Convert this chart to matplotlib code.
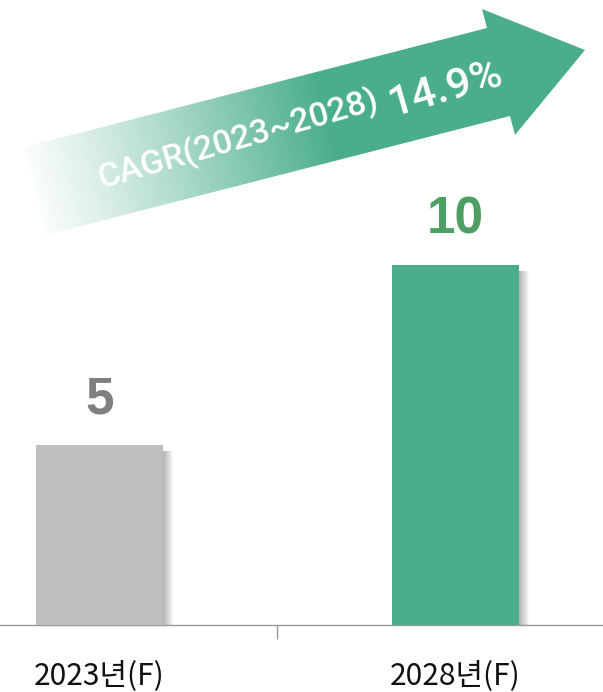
import numpy as np
import matplotlib
matplotlib.use("Agg")
import matplotlib.pyplot as plt
from matplotlib.patches import Polygon, Rectangle
from matplotlib.colors import to_rgb

# ---- data ----
categories = ["2023년(F)", "2028년(F)"]
values = [5, 10]
bar_colors = ["#bfbfbf", "#4aae8a"]
label_colors = ["#7f7f7f", "#4e9f63"]
cagr_label = "CAGR(2023~2028)"
cagr_value = "14.9%"

W, H = 603, 692
fig = plt.figure(figsize=(W / 100, H / 100), dpi=100)

# main bar axes: bottom of axes at pixel y=625
ax = fig.add_axes([0, (H - 625) / H, 1, 625 / H])
x = np.arange(len(categories))
bw = 0.357
ax.set_xlim(-0.28, 1.416)
ax.set_ylim(0, 625 / 36)
px_x = 1.696 / W      # data units per pixel (x)
px_y = 1 / 36.0       # data units per pixel (y)

# soft shadows (stacked translucent layers)
for xi, v in zip(x, values):
    for k in range(1, 11):
        off = k * px_x
        ax.add_patch(Rectangle((xi - bw / 2 + off, -0.05), bw, v - 4 * px_y,
                               facecolor="black", alpha=0.03, linewidth=0, zorder=1))

bars = ax.bar(x, values, width=bw, color=bar_colors, zorder=3)
for xi, v, c in zip(x, values, label_colors):
    ax.text(xi, v + 31 * px_y, str(v), ha="center", va="baseline", color=c,
            fontsize=37, fontweight="bold", family=["Liberation Sans", "DejaVu Sans"])

for s in ["top", "right", "left"]:
    ax.spines[s].set_visible(False)
ax.spines["bottom"].set_color("#999999")
ax.spines["bottom"].set_linewidth(1.0)
ax.set_yticks([])
ax.set_xticks([0.5])
ax.set_xticklabels([""])
ax.tick_params(axis="x", length=10, color="#999999", width=1)
for xi, lab in zip(x, categories):
    ax.text(xi, -59 * px_y, lab, ha="center", va="baseline", fontsize=21.5,
            family=["Noto Sans CJK KR", "DejaVu Sans"], color="#111111")

# ---- arrow overlay in pixel coords ----
oax = fig.add_axes([0, 0, 1, 1], zorder=5)
oax.set_xlim(0, W)
oax.set_ylim(H, 0)
oax.axis("off")
oax.patch.set_alpha(0)

pts = np.array([(25, 147), (487, 28), (482, 9), (585, 50),
                (515, 135), (510, 116), (46, 235)])
poly = Polygon(pts, closed=True, facecolor="none", edgecolor="none")
oax.add_patch(poly)

# gradient along arrow direction
tail = np.array([35.5, 191.0])
tip = np.array([585.0, 50.0])
d = tip - tail
d = d / np.linalg.norm(d)
gx, gy = np.meshgrid(np.arange(W) + 0.5, np.arange(H) + 0.5)
proj = (gx - tail[0]) * d[0] + (gy - tail[1]) * d[1]
t = np.clip(proj / 300.0, 0, 1)
green = np.array(to_rgb("#4aae8a"))
a0 = 0.03
alpha = a0 + (1 - a0) * t ** 1.1
img = np.ones((H, W, 4))
img[..., :3] = green
img[..., 3] = alpha
im = oax.imshow(img, extent=(0, W, H, 0), interpolation="bilinear", zorder=6)
im.set_clip_path(poly)

ang = 16.0
oax.text(238, 140, cagr_label, rotation=ang, rotation_mode="anchor",
         ha="center", va="center", color="white", fontsize=24.5, fontweight="medium",
         family=["Roboto", "DejaVu Sans"], zorder=7)
oax.text(446, 89, cagr_value, rotation=ang, rotation_mode="anchor",
         ha="center", va="center", color="white", fontsize=31, fontweight="medium",
         family=["Roboto", "DejaVu Sans"], zorder=7)

fig.savefig("out.png", dpi=100)
